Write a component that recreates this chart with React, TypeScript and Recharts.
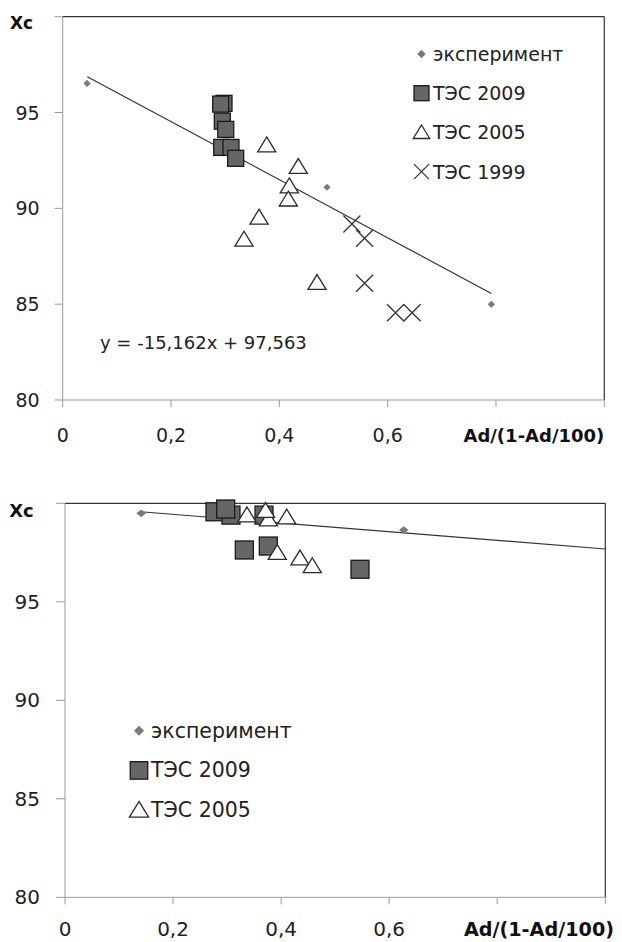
import { Legend, ReferenceLine, Scatter, ScatterChart, XAxis, YAxis } from "recharts";

const FONT = "'DejaVu Sans', Verdana, sans-serif";

const X_TICKS = [0, 0.2, 0.4, 0.6, 0.8, 1];
const Y_TICKS = [80, 85, 90, 95, 100];
const X_TITLE = "Ad/(1-Ad/100)";
const Y_TITLE = "Xc";
const EQUATION = "y = -15,162x + 97,563";
const NAMES = ["эксперимент", "ТЭС 2009", "ТЭС 2005", "ТЭС 1999"];

// top chart
const TOP_EXPERIMENT = [
  { x: 0.045, y: 96.52 },
  { x: 0.488, y: 91.1 },
  { x: 0.7915, y: 84.99 },
];
const TOP_TES_2009 = [
  { x: 0.2978, y: 95.48 },
  { x: 0.2917, y: 95.44 },
  { x: 0.2947, y: 94.55 },
  { x: 0.301, y: 94.12 },
  { x: 0.2936, y: 93.18 },
  { x: 0.3107, y: 93.18 },
  { x: 0.3194, y: 92.61 },
];
const TOP_TES_2005 = [
  { x: 0.3767, y: 93.3 },
  { x: 0.435, y: 92.17 },
  { x: 0.4184, y: 91.16 },
  { x: 0.4166, y: 90.47 },
  { x: 0.3625, y: 89.53 },
  { x: 0.3348, y: 88.38 },
  { x: 0.4696, y: 86.12 },
];
const TOP_TES_1999 = [
  { x: 0.534, y: 89.18 },
  { x: 0.5574, y: 88.44 },
  { x: 0.5574, y: 86.09 },
  { x: 0.6145, y: 84.55 },
  { x: 0.6452, y: 84.55 },
];
const TOP_TREND = [
  { x: 0.0454, y: 96.87 },
  { x: 0.7915, y: 85.56 },
];

// bottom chart
const BOTTOM_EXPERIMENT = [
  { x: 0.141, y: 99.49 },
  { x: 0.627, y: 98.64 },
];
const BOTTOM_TES_2009 = [
  { x: 0.2776, y: 99.57 },
  { x: 0.3072, y: 99.4 },
  { x: 0.2974, y: 99.71 },
  { x: 0.3683, y: 99.4 },
  { x: 0.3319, y: 97.63 },
  { x: 0.3763, y: 97.83 },
  { x: 0.546, y: 96.65 },
];
const BOTTOM_TES_2005 = [
  { x: 0.3367, y: 99.4 },
  { x: 0.3763, y: 99.19 },
  { x: 0.3711, y: 99.62 },
  { x: 0.4103, y: 99.29 },
  { x: 0.3929, y: 97.49 },
  { x: 0.4349, y: 97.21 },
  { x: 0.4577, y: 96.82 },
];
const BOTTOM_TREND = [
  { x: 0.14, y: 99.57 },
  { x: 1, y: 97.68 },
];

const AXIS_GRAY = "#9a9a9a";
const FRAME = "#333";

const fmt = (v: number) => String(v).replace(".", ",");

function marker(kind: number, cx: number, cy: number, s: number) {
  if (kind === 0) {
    const r = s * 0.22;
    return <path d={`M${cx},${cy - r}L${cx + r},${cy}L${cx},${cy + r}L${cx - r},${cy}Z`} fill="#7a7a7a" />;
  }
  if (kind === 1) {
    return <rect x={cx - s / 2} y={cy - s / 2} width={s} height={s} fill="#666" stroke="#1a1a1a" strokeWidth={1.3} />;
  }
  if (kind === 2) {
    const w = s * 1.1;
    const h = s * 0.9;
    return (
      <path
        d={`M${cx},${cy - h * 0.55}L${cx + w / 2},${cy + h * 0.45}L${cx - w / 2},${cy + h * 0.45}Z`}
        fill="#fff"
        stroke="#2a2a2a"
        strokeWidth={1.3}
      />
    );
  }
  const r = s / 2;
  return (
    <path
      d={`M${cx - r},${cy - r}L${cx + r},${cy + r}M${cx + r},${cy - r}L${cx - r},${cy + r}`}
      stroke="#333"
      strokeWidth={1.3}
      fill="none"
    />
  );
}

const shape = (kind: number, s: number, diamond?: [number, number]) => (p: any) => {
  if (kind === 0 && diamond) {
    const [rx, ry] = diamond;
    const { cx, cy } = p;
    return <path d={`M${cx},${cy - ry}L${cx + rx},${cy}L${cx},${cy + ry}L${cx - rx},${cy}Z`} fill="#7a7a7a" />;
  }
  return marker(kind, p.cx, p.cy, s);
};

const xTick = (fontSize: number, dy: number) => (p: any) => {
  const v = p.payload.value;
  if (v > 0.7) return <g />;
  return (
    <text x={p.x} y={p.y + dy} textAnchor="middle" dominantBaseline="central" fontSize={fontSize} fontFamily={FONT} fill="#222">
      {fmt(v)}
    </text>
  );
};

const yTick = (fontSize: number) => (p: any) => {
  const v = p.payload.value;
  if (v >= 100) return <g />;
  return (
    <text x={p.x} y={p.y} textAnchor="end" dominantBaseline="central" fontSize={fontSize} fontFamily={FONT} fill="#222">
      {v}
    </text>
  );
};

const legend = (
  count: number,
  opts: { w: number; h: number; y0: number; step: number; mx: number; tx: number; s: number; fontSize: number }
) => () => (
  <svg width={opts.w} height={opts.h} style={{ display: "block" }}>
    {NAMES.slice(0, count).map((name, i) => {
      const y = opts.y0 + i * opts.step;
      return (
        <g key={name}>
          {marker(i, opts.mx, y, i === 0 ? opts.s * 1.3 : opts.s)}
          <text x={opts.tx} y={y} dominantBaseline="central" fontSize={opts.fontSize} fontFamily={FONT} fill="#222">
            {name}
          </text>
        </g>
      );
    })}
  </svg>
);

function Titles({ xEnd, xY, xSize, cY, cSize }: { xEnd: number; xY: number; xSize: number; cY: number; cSize: number }) {
  return (
    <svg width={622} height={470} style={{ position: "absolute", left: 0, top: 0, pointerEvents: "none" }}>
      <text x={xEnd} y={xY} textAnchor="end" dominantBaseline="central" fontSize={xSize} fontWeight="bold" fontFamily={FONT} fill="#111">
        {X_TITLE}
      </text>
      <text x={21.5} y={cY} textAnchor="middle" dominantBaseline="central" fontSize={cSize} fontWeight="bold" fontFamily={FONT} fill="#111">
        {Y_TITLE}
      </text>
    </svg>
  );
}

export default function App() {
  return (
    <div style={{ position: "absolute", left: 0, top: 0, width: 622, height: 942, background: "#fff", fontFamily: FONT }}>
      <div style={{ position: "absolute", left: 0, top: 0, width: 622, height: 470 }}>
        <ScatterChart width={622} height={470} margin={{ top: 16.7, right: 17.7, bottom: 0, left: 0 }}>
          <XAxis
            type="number"
            dataKey="x"
            domain={[0, 1]}
            ticks={X_TICKS}
            height={70}
            stroke={AXIS_GRAY}
            tickSize={7}
            tick={xTick(19, 26)}
          />
          <YAxis
            type="number"
            dataKey="y"
            domain={[80, 100]}
            ticks={Y_TICKS}
            width={62.7}
            stroke={AXIS_GRAY}
            tickSize={8}
            tickMargin={15}
            tick={yTick(19)}
          />
          <ReferenceLine y={100} stroke={FRAME} strokeWidth={1.2} />
          <ReferenceLine x={1} stroke={FRAME} strokeWidth={1.2} />
          <Scatter name={NAMES[0]} data={TOP_EXPERIMENT} shape={shape(0, 7, [3.6, 3.6])} isAnimationActive={false} />
          <Scatter name={NAMES[1]} data={TOP_TES_2009} shape={shape(1, 16)} isAnimationActive={false} />
          <Scatter name={NAMES[2]} data={TOP_TES_2005} shape={shape(2, 16.5)} isAnimationActive={false} />
          <Scatter name={NAMES[3]} data={TOP_TES_1999} shape={shape(3, 17)} isAnimationActive={false} />
          <ReferenceLine
            segment={[TOP_TREND[0], TOP_TREND[1]]}
            stroke="#333"
            strokeWidth={1.2}
          />
          <Legend
            layout="vertical"
            align="center"
            verticalAlign="middle"
            wrapperStyle={{ left: 405, top: 30, width: 210, height: 165 }}
            content={legend(4, { w: 210, h: 165, y0: 24, step: 39.2, mx: 16.5, tx: 28, s: 15, fontSize: 19 })}
          />
        </ScatterChart>
        <Titles xEnd={604.3} xY={435} xSize={18} cY={22.7} cSize={17} />
        <div
          style={{
            position: "absolute",
            left: 100,
            top: 332,
            fontSize: 18,
            lineHeight: "22px",
            color: "#222",
            whiteSpace: "nowrap",
          }}
        >
          {EQUATION}
        </div>
      </div>

      <div style={{ position: "absolute", left: 0, top: 480, width: 622, height: 462 }}>
        <ScatterChart width={622} height={462} margin={{ top: 23.3, right: 16.7, bottom: 0, left: 0 }}>
          <XAxis
            type="number"
            dataKey="x"
            domain={[0, 1]}
            ticks={X_TICKS}
            height={44.7}
            stroke={AXIS_GRAY}
            tickSize={7}
            tick={xTick(20, 23)}
          />
          <YAxis
            type="number"
            dataKey="y"
            domain={[80, 100]}
            ticks={Y_TICKS}
            width={65}
            stroke={AXIS_GRAY}
            tickSize={9}
            tickMargin={16}
            tick={yTick(20)}
          />
          <ReferenceLine y={100} stroke={FRAME} strokeWidth={1.2} />
          <ReferenceLine x={1} stroke={FRAME} strokeWidth={1.2} />
          <Scatter name={NAMES[0]} data={BOTTOM_EXPERIMENT} shape={shape(0, 9, [4.8, 3.8])} isAnimationActive={false} />
          <Scatter name={NAMES[1]} data={BOTTOM_TES_2009} shape={shape(1, 18)} isAnimationActive={false} />
          <Scatter name={NAMES[2]} data={BOTTOM_TES_2005} shape={shape(2, 16.5)} isAnimationActive={false} />
          <ReferenceLine
            segment={[BOTTOM_TREND[0], BOTTOM_TREND[1]]}
            stroke="#333"
            strokeWidth={1.2}
          />
          <Legend
            layout="vertical"
            align="center"
            verticalAlign="middle"
            wrapperStyle={{ left: 120, top: 230, width: 200, height: 125 }}
            content={legend(3, { w: 200, h: 125, y0: 20.7, step: 39.7, mx: 19, tx: 31, s: 17.5, fontSize: 20.5 })}
          />
        </ScatterChart>
        <Titles xEnd={614} xY={449.5} xSize={19.2} cY={30.7} cSize={18} />
      </div>
    </div>
  );
}
